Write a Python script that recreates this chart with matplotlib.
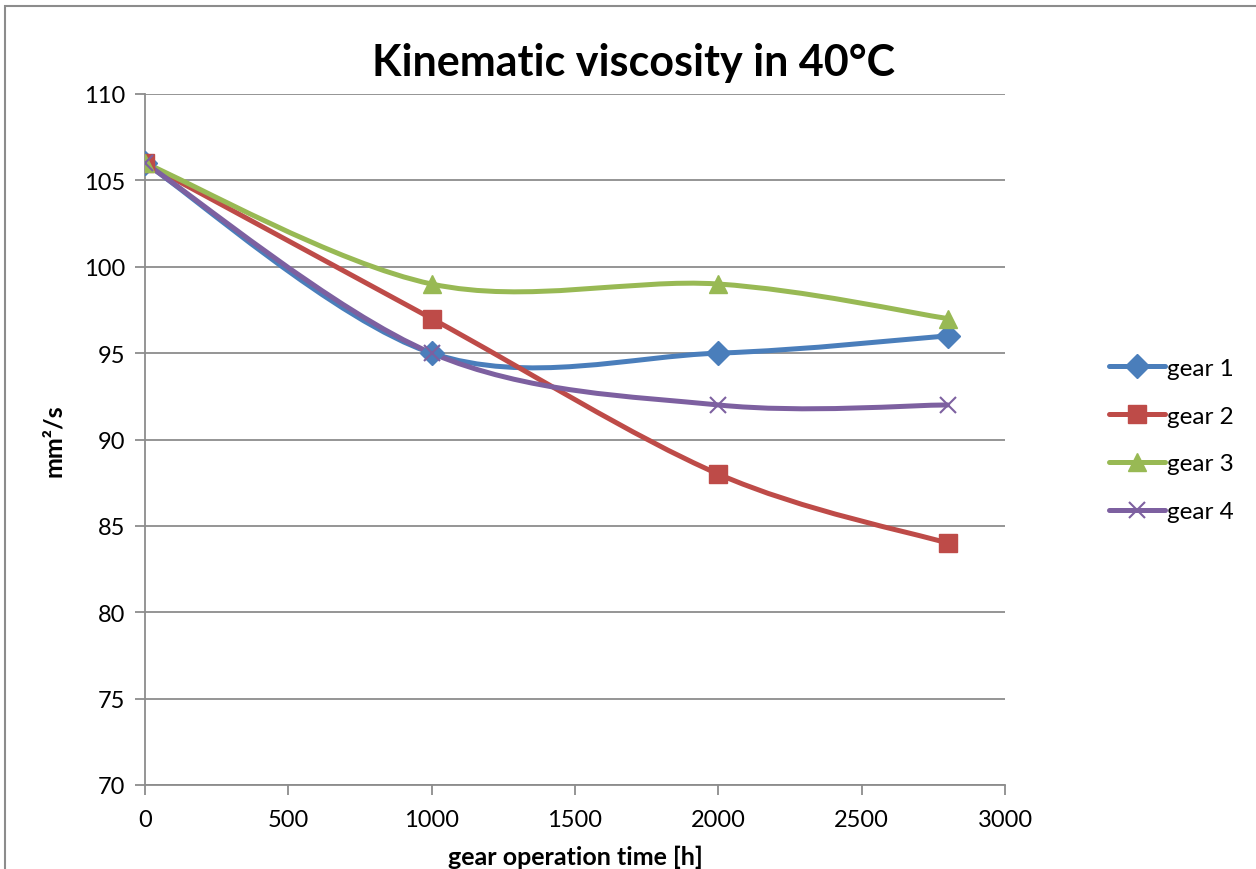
import matplotlib.pyplot as plt
from matplotlib.path import Path
from matplotlib.patches import PathPatch, Rectangle
from matplotlib.lines import Line2D

plt.rcParams['font.family'] = ['Lato', 'DejaVu Sans']

hours = [0, 1000, 2000, 2800]
gear1 = [106, 95, 95, 96]
gear2 = [106, 97, 88, 84]
gear3 = [106, 99, 99, 97]
gear4 = [106, 95, 92, 92]
names = ['gear 1', 'gear 2', 'gear 3', 'gear 4']
colors = ['#4A7EBB', '#BE4B48', '#98B954', '#7D60A0']
markers = ['D', 's', '^', 'x']
msizes = [12, 13.5, 13, 12]


def smooth_path(xs, ys):
    # excel style smoothed line: cubic bezier through each point
    pts = list(zip(xs, ys))
    n = len(pts)
    verts = [pts[0]]
    codes = [Path.MOVETO]
    for i in range(n - 1):
        p0 = pts[max(i - 1, 0)]
        p1 = pts[i]
        p2 = pts[i + 1]
        p3 = pts[min(i + 2, n - 1)]
        c1 = (p1[0] + (p2[0] - p0[0]) / 6, p1[1] + (p2[1] - p0[1]) / 6)
        c2 = (p2[0] - (p3[0] - p1[0]) / 6, p2[1] - (p3[1] - p1[1]) / 6)
        verts += [c1, c2, p2]
        codes += [Path.CURVE4] * 3
    return Path(verts, codes)


fig = plt.figure(figsize=(12.56, 8.70), dpi=100)
ax = fig.add_axes([145 / 1256, 1 - 786 / 870, 860 / 1256, 691 / 870])

# chart border (cropped at right/bottom)
fig.patches.append(Rectangle((5 / 1256, -0.1), 1.2, 1 - 7 / 870 + 0.1,
                             transform=fig.transFigure, fill=False,
                             edgecolor='#8c8c8c', linewidth=1.5))

handles = []
for ys, name, c, m, ms in zip([gear1, gear2, gear3, gear4], names, colors, markers, msizes):
    ax.add_patch(PathPatch(smooth_path(hours, ys), fill=False, edgecolor=c,
                           linewidth=3.6, capstyle='round', joinstyle='round', zorder=3))
    ax.plot(hours, ys, linestyle='none', marker=m, markersize=ms, color=c,
            markeredgecolor=c, markeredgewidth=1.5 if m == 'x' else 1, zorder=4)
    handles.append(Line2D([], [], color=c, linewidth=3.6, marker=m, markersize=ms,
                          markeredgecolor=c, markeredgewidth=1.5 if m == 'x' else 1,
                          solid_capstyle='round', label=name))

ax.set_xlim(0, 3000)
ax.set_ylim(70, 110)
ax.set_xticks(range(0, 3001, 500))
ax.set_yticks(range(70, 111, 5))
ax.grid(axis='y', color='#8c8c8c', linewidth=1.3)
ax.set_axisbelow(True)
for s in ['top', 'right']:
    ax.spines[s].set_visible(False)
for s in ['left', 'bottom']:
    ax.spines[s].set_color('#8c8c8c')
    ax.spines[s].set_linewidth(1.3)
ax.tick_params(axis='both', colors='#8c8c8c', labelcolor='black', labelsize=17,
               length=7, width=1.3)
ax.tick_params(axis='y', pad=7)
ax.tick_params(axis='x', pad=10)

fig.text(633 / 1256, 1 - 63 / 870, 'Kinematic viscosity in 40°C', fontsize=31,
         fontweight='bold', ha='center', va='center')
ax.set_xlabel('gear operation time [h]', fontsize=18, fontweight='bold', labelpad=11)
ax.set_ylabel('mm²/s', fontsize=18, fontweight='bold', labelpad=14)

fig.legend(handles=handles, loc='center left', bbox_to_anchor=(1099 / 1256, 1 - 441 / 870),
           frameon=False, fontsize=17.5, numpoints=1, handlelength=2.3,
           handletextpad=0.1, labelspacing=1.1, borderaxespad=0)

fig.savefig('out.png', dpi=100)
